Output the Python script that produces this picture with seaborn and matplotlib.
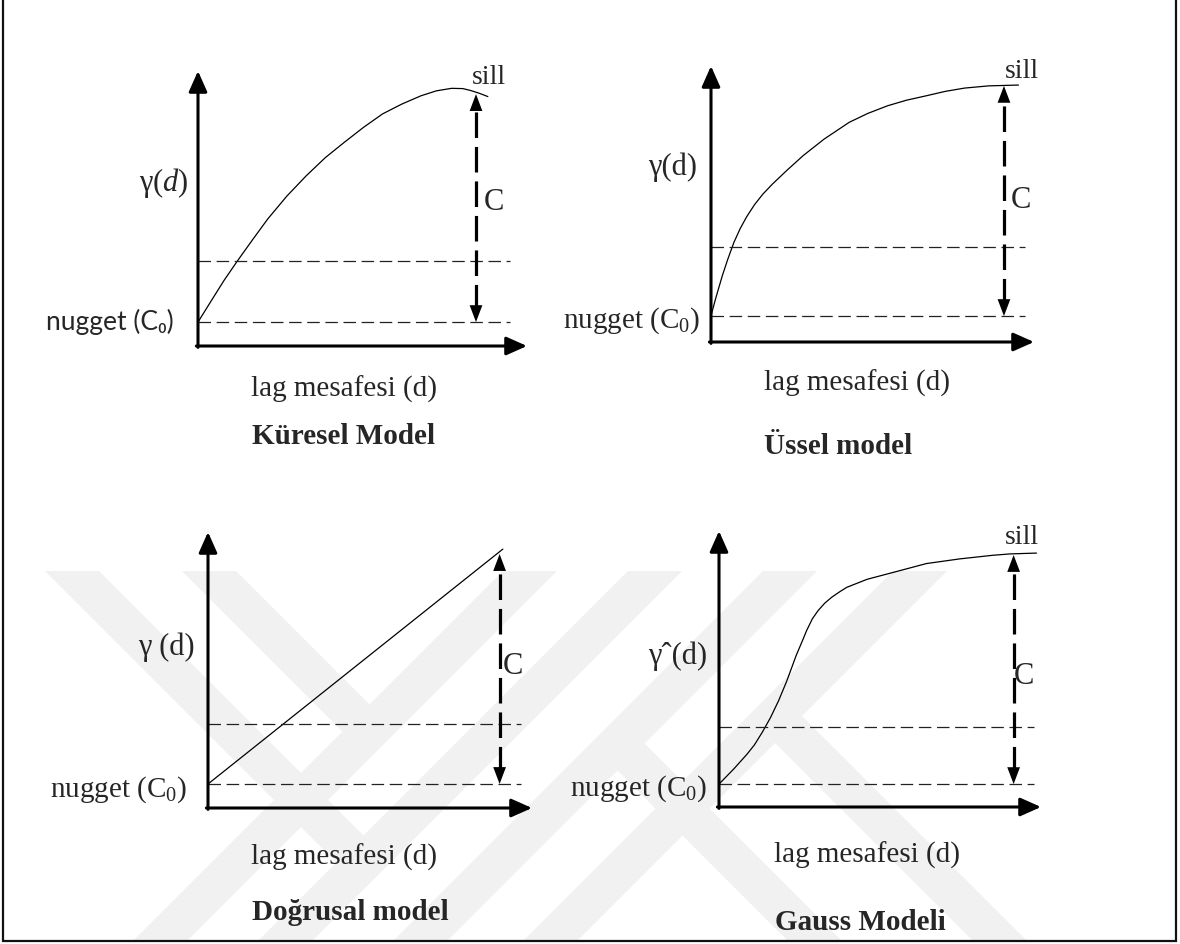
import matplotlib
matplotlib.use('Agg')
import matplotlib.pyplot as plt
from matplotlib.patches import Polygon, Rectangle
import seaborn as sns

sns.set_style('white')
plt.rcParams['font.family'] = ['Liberation Serif', 'DejaVu Serif']
plt.rcParams['mathtext.fontset'] = 'custom'
plt.rcParams['mathtext.rm'] = 'Liberation Serif'
plt.rcParams['mathtext.it'] = 'Liberation Serif:italic'
plt.rcParams['mathtext.bf'] = 'Liberation Serif:bold'

W, H = 1180, 945

# --- veriler (0-10 olcekli) ---
basliklar = ['Küresel Model', 'Üssel model', 'Doğrusal model', 'Gauss Modeli']
y_etiket = [r'$\mathrm{γ}(d)$', 'γ(d)', 'γ (d)', 'γˆ(d)']

kuresel_d = [0.00, 0.25, 0.50, 0.80, 1.19, 1.65, 2.12, 2.70, 3.29, 3.87, 4.45,
             5.03, 5.61, 6.20, 6.78, 7.25, 7.71, 8.05, 8.29, 8.55, 8.81]
kuresel_g = [0.87, 1.35, 1.83, 2.40, 3.08, 3.85, 4.62, 5.45, 6.19, 6.85, 7.41,
             7.95, 8.44, 8.80, 9.10, 9.28, 9.37, 9.36, 9.29, 9.19, 9.07]

ussel_d = [0.00, 0.15, 0.35, 0.52, 0.71, 0.90, 1.10, 1.35, 1.60, 1.90, 2.35,
           2.85, 3.50, 4.28, 4.85, 5.47, 6.05, 6.66, 7.25, 7.85, 8.60, 9.52]
ussel_g = [0.95, 1.60, 2.40, 3.00, 3.61, 4.10, 4.53, 4.98, 5.35, 5.72, 6.22,
           6.75, 7.35, 7.96, 8.28, 8.56, 8.76, 8.92, 9.08, 9.20, 9.28, 9.31]

dogrusal_d = [0.00, 9.10]
dogrusal_g = [0.87, 9.38]

gauss_d = [0.00, 0.46, 0.86, 1.10, 1.35, 1.60, 1.85, 2.10, 2.40, 2.60, 2.72,
           2.90, 3.08, 3.28, 3.50, 3.75, 3.97, 4.60, 5.41, 6.44, 7.48, 8.50,
           9.04, 9.86]
gauss_g = [0.83, 1.38, 1.90, 2.25, 2.72, 3.24, 3.85, 4.55, 5.50, 6.05, 6.39,
           6.82, 7.12, 7.38, 7.60, 7.80, 7.96, 8.25, 8.50, 8.82, 8.99, 9.12,
           9.17, 9.20]

egriler = [(kuresel_d, kuresel_g), (ussel_d, ussel_g),
           (dogrusal_d, dogrusal_g), (gauss_d, gauss_g)]

nugget = [0.87, 0.94, 0.87, 0.83]
orta = [3.09, 3.44, 3.04, 2.90]
esik = [9.16, 9.28, 9.20, 9.13]      # sill, C okunun ust ucu
c_x = [8.45, 9.07, 9.00, 9.15]
kesik_son = [9.48, 9.72, 9.66, 9.78]

# --- yerlesim (piksel) ---
# eksen kesisimi x, y ; x ok ucu ; y ok ucu
panel_px = [(198, 347, 527, 72), (711, 343, 1034, 67),
            (208, 809, 532, 533), (719, 808, 1041, 532)]
sill_px = [(489, 78), (1022, 72), None, (1022, 537)]
c_px = [(484, 203), (1011, 201), (503, 666), (1014, 676)]
ylab_px = [(189, 183), (697, 167), (195, 647), (707, 656)]
nug_px = [(174, 330), (700, 328), (187, 797), (707, 796)]
lag_px = [(344, 389), (857, 383), (344, 857), (867, 855)]
baslik_px = [(344, 437), (838, 447), (350, 913), (860, 923)]


def px(x, y):
    return x / W, 1 - y / H


fig = plt.figure(figsize=(W / 100, H / 100), dpi=100)

# arka plan: filigran + cerceve
bg = fig.add_axes([0, 0, 1, 1])
bg.set_xlim(0, W)
bg.set_ylim(H, 0)
bg.axis('off')

gri = '#f1f1f1'
w = 27
ust = 572
alt = 943


def egik(b, a):
    # '/' bandi (ustte b) ile birlesen '\' bandi (ustte a)
    t1 = (b - a - 2 * w) / 2
    t2 = (b - a + 2 * w) / 2
    return [(a - w, ust), (a + w, ust), (a + w + t1, ust + t1), (a - w + t2, ust + t2)]


for b in [530, 655, 790, 920]:
    t = alt - ust
    bg.add_patch(Polygon([(b - w, ust), (b + w, ust), (b + w - t, alt), (b - w - t, alt)],
                         closed=True, color=gri, lw=0, zorder=0))
bg.add_patch(Polygon(egik(655, 72), closed=True, color=gri, lw=0, zorder=0))
bg.add_patch(Polygon(egik(530, 209), closed=True, color=gri, lw=0, zorder=0))
for b, c in [(790, 445), (920, 630)]:
    t_o = (b - c - 2 * w) / 2
    t_i = (b - c + 2 * w) / 2
    t = alt - ust
    bg.add_patch(Polygon([(b - w - t_o, ust + t_o), (c + w + t, alt), (c - w + t, alt),
                          (b + w - t_i, ust + t_i)], closed=True, color=gri, lw=0, zorder=0))

bg.add_patch(Rectangle((3, -5), 1173, 947, fill=False, edgecolor='#111111', lw=1.6, zorder=5))

ok = dict(arrowstyle='-|>,head_length=0.45,head_width=0.2', mutation_scale=28,
          lw=2.2, color='black', shrinkA=0, shrinkB=0)
bas = dict(arrowstyle='-|>,head_length=0.45,head_width=0.17', mutation_scale=27,
           lw=0, color='black', shrinkA=0, shrinkB=0)

for i in range(4):
    ox, oy, xt, yt = panel_px[i]
    ax = fig.add_axes([ox / W, 1 - oy / H, (xt - ox) / W, (oy - yt) / H])
    d, g = egriler[i]
    sns.lineplot(x=d, y=g, ax=ax, color='black', linewidth=0.9, estimator=None, sort=False)
    ax.set_xlim(0, 10)
    ax.set_ylim(0, 10)
    ax.axis('off')

    for yy in (nugget[i], orta[i]):
        ax.plot([0, kesik_son[i]], [yy, yy], color='#222222', lw=0.9,
                linestyle=(0, (10, 4.5)), clip_on=False)

    # eksen oklari
    ax.annotate('', xy=(10, 0), xytext=(-0.05, 0), arrowprops=ok, annotation_clip=False)
    ax.annotate('', xy=(0, 10), xytext=(0, -0.05), arrowprops=ok, annotation_clip=False)

    # C oku
    cx = c_x[i]
    ax.plot([cx, cx], [nugget[i] + 0.45, esik[i] - 0.45], color='black', lw=2.3,
            linestyle=(0, (8, 2.8)), clip_on=False)
    ax.annotate('', xy=(cx, esik[i]), xytext=(cx, esik[i] - 0.5), arrowprops=bas,
                annotation_clip=False)
    ax.annotate('', xy=(cx, nugget[i]), xytext=(cx, nugget[i] + 0.5), arrowprops=bas,
                annotation_clip=False)

    # yazilar
    if sill_px[i] is not None:
        fig.text(*px(*sill_px[i]), 'sill', fontsize=20, ha='center', va='center')
    fig.text(*px(*c_px[i]), 'C', fontsize=22, ha='left', va='center')
    fig.text(*px(*ylab_px[i]), y_etiket[i], fontsize=22, ha='right', va='center')
    if i == 0:
        fig.text(*px(*nug_px[i]), 'nugget (C₀)', fontsize=19, ha='right', va='baseline',
                 family=['Lato', 'Noto Sans', 'DejaVu Sans'])
    else:
        fig.text(*px(*nug_px[i]), r'nugget ($\mathrm{C}_0$)', fontsize=21, ha='right',
                 va='baseline')
    fig.text(*px(*lag_px[i]), 'lag mesafesi (d)', fontsize=21, ha='center', va='center')
    fig.text(*px(*baslik_px[i]), basliklar[i], fontsize=21, fontweight='bold',
             ha='center', va='center')

fig.savefig('out.png', dpi=100)
